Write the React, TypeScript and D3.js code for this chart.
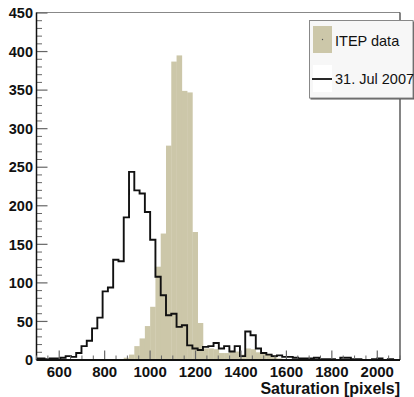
import * as d3 from "d3";

// histogram binning (x units = pixels)
const binStart = 488.75;
const binWidth = 23.25;

// "31. Jul 2007" counts per bin
const julCounts = [
  2, 2, 1, 2, 2, 3, 5, 4, 9, 18, 25, 41, 55, 89, 94, 130, 128, 185, 244, 220,
  216, 192, 156, 108, 84, 58, 60, 43, 45, 19, 15, 13, 17, 18, 22, 15, 18, 11,
  18, 5, 37, 32, 15, 9, 7, 5, 6, 4, 4, 3, 2, 2, 2, 3, 1, 1, 1, 0, 3, 3, 1, 1,
  0, 0, 1, 2, 0, 1, 0, 0,
];

// "ITEP data" counts per bin
const itepCounts = [
  0, 0, 0, 0, 0, 0, 0, 0, 0, 0, 0, 0, 0, 0, 1, 1, 1, 3, 7, 18, 28, 44, 69, 121,
  164, 278, 387, 395, 349, 347, 166, 48, 15, 15, 14, 9, 9, 12, 11, 7, 15, 14,
  10, 8, 8, 6, 2, 1, 1, 1, 0, 0, 0, 0, 0, 0, 0, 0, 0, 0, 0, 0, 0, 0, 0, 0, 0, 0,
  0, 0,
];

const xTicks = [600, 800, 1000, 1200, 1400, 1600, 1800, 2000];
const yTicks = [0, 50, 100, 150, 200, 250, 300, 350, 400, 450];
const legendLabels = ["ITEP data", "31. Jul 2007"];

const width = 414;
const height = 397;
const left = 36.5;
const right = 400;
const top = 12.5;
const bottom = 360;

export default function App() {
  const x = d3.scaleLinear().domain([500, 2100]).range([left, right]);
  const y = d3.scaleLinear().domain([0, 450]).range([bottom, 13]);

  const julPts: [number, number][] = julCounts.map((c, i) => [binStart + i * binWidth, c]);
  julPts.push([binStart + julCounts.length * binWidth, julCounts[julCounts.length - 1]]);
  const step = d3
    .line<[number, number]>()
    .x((d) => x(d[0]))
    .y((d) => y(d[1]))
    .curve(d3.curveStepAfter);

  const minorX = d3.range(500, 2101, 50).filter((v) => v % 200 !== 0);
  const minorY = d3.range(0, 451, 10).filter((v) => v % 50 !== 0);

  const font = "'Liberation Sans', Arial, Helvetica, sans-serif";

  return (
    <svg
      width={width}
      height={height}
      style={{ position: "absolute", left: 0, top: 0, background: "white" }}
    >
      <defs>
        <clipPath id="plot">
          <rect x={left} y={top} width={right - left} height={bottom - top} />
        </clipPath>
      </defs>

      <g clipPath="url(#plot)">
        {itepCounts.map((c, i) =>
          c > 0 ? (
            <rect
              key={i}
              x={x(binStart + i * binWidth)}
              y={y(c)}
              width={x(binStart + (i + 1) * binWidth) - x(binStart + i * binWidth) + 0.3}
              height={bottom - y(c)}
              fill="#ccc7a9"
            />
          ) : null
        )}
        <path d={step(julPts) || ""} fill="none" stroke="#111" strokeWidth={1.9} />
      </g>

      {/* frame */}
      <line x1={left} x2={right} y1={top} y2={top} stroke="#888" strokeWidth={1.2} />
      <line x1={right} x2={right} y1={top} y2={bottom} stroke="#333" strokeWidth={1.2} />

      {/* y axis */}
      {yTicks.map((t) => (
        <g key={t}>
          <line x1={left} x2={left + 11} y1={y(t)} y2={y(t)} stroke="#666" strokeWidth={1.2} />
          <text
            x={33}
            y={y(t)}
            dy="0.36em"
            textAnchor="end"
            fontFamily={font}
            fontWeight="bold"
            fontSize={14.5}
            fill="#111"
          >
            {t}
          </text>
        </g>
      ))}
      {minorY.map((t) => (
        <line key={t} x1={left} x2={left + 5.5} y1={y(t)} y2={y(t)} stroke="#666" strokeWidth={1} />
      ))}
      <line x1={left} x2={left} y1={top} y2={bottom} stroke="#111" strokeWidth={1.5} />

      {/* x axis */}
      {xTicks.map((t) => (
        <g key={t}>
          <line x1={x(t)} x2={x(t)} y1={bottom} y2={bottom - 9.5} stroke="#666" strokeWidth={1.2} />
          <text
            x={x(t)}
            y={376.5}
            textAnchor="middle"
            fontFamily={font}
            fontWeight="bold"
            fontSize={15}
            fill="#111"
          >
            {t}
          </text>
        </g>
      ))}
      {minorX.map((t) => (
        <line key={t} x1={x(t)} x2={x(t)} y1={bottom} y2={bottom - 4.5} stroke="#666" strokeWidth={1} />
      ))}
      <line x1={left} x2={right} y1={bottom} y2={bottom} stroke="#111" strokeWidth={1.8} />
      <text
        x={right}
        y={393.5}
        textAnchor="end"
        fontFamily={font}
        fontWeight="bold"
        fontSize={16}
        fill="#111"
      >
        Saturation [pixels]
      </text>

      {/* legend */}
      <rect x={310.5} y={21.5} width={104} height={78} fill="#555" />
      <rect x={309.5} y={20.5} width={103.5} height={77.5} fill="#f7f7f7" stroke="#888" strokeWidth={1} />
      <rect x={313} y={26} width={19} height={27} fill="#ccc7a9" />
      <circle cx={322.5} cy={39.5} r={0.7} fill="#555" />
      <rect x={313} y={65} width={19} height={27} fill="white" />
      <line x1={312} x2={332} y1={79} y2={79} stroke="#111" strokeWidth={1.8} />
      {legendLabels.map((l, i) => (
        <text
          key={l}
          x={335}
          y={i === 0 ? 41 : 79}
          dy="0.36em"
          fontFamily={font}
          fontSize={14.5}
          fill="#111"
        >
          {l}
        </text>
      ))}
    </svg>
  );
}
